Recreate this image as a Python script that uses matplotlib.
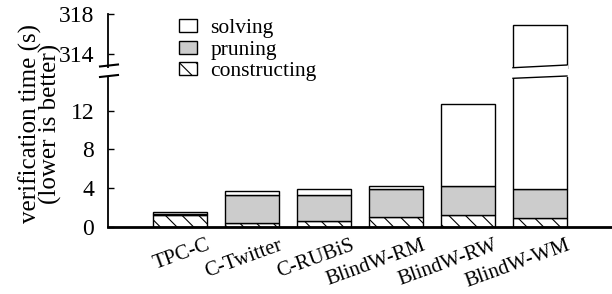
import numpy as np
import matplotlib
matplotlib.use('Agg')
import matplotlib.pyplot as plt
import matplotlib.transforms as mtransforms
from matplotlib.patches import Polygon
from matplotlib.lines import Line2D

plt.rcParams['font.family'] = 'Liberation Serif'
plt.rcParams['font.size'] = 15
plt.rcParams['hatch.linewidth'] = 0.8

benchmarks = ['TPC-C', 'C-Twitter', 'C-RUBiS', 'BlindW-RM', 'BlindW-RW', 'BlindW-WM']
constructing = [1.24, 0.42, 0.62, 0.97, 1.18, 0.87]
pruning = [0.08, 2.83, 2.63, 2.90, 3.03, 3.00]
solving = [0.20, 0.41, 0.68, 0.34, 8.45, 313.0]
lower_ticks = [0, 4, 8, 12]
upper_ticks = [314, 318]

x = np.arange(len(benchmarks))
w = 0.75
c = np.array(constructing)
p = np.array(pruning)
s = np.array(solving)

fig = plt.figure(figsize=(6.12, 2.94), dpi=100)
ax = fig.add_axes([0.1765, 0.2289, 0.8235, 0.509])
axu = fig.add_axes([0.1765, 0.767, 0.8235, 0.1854])

for a in (ax, axu):
    a.bar(x, c, w, color='white', edgecolor='black', hatch='\\\\', linewidth=1, label='constructing')
    a.bar(x, p, w, bottom=c, color='#cccccc', edgecolor='black', linewidth=1, label='pruning')
    a.bar(x, s, w, bottom=c + p, color='white', edgecolor='black', linewidth=1, label='solving')
    a.set_xlim(-1, 6)
    a.spines['top'].set_visible(False)
    a.spines['right'].set_visible(False)
    a.tick_params(axis='y', direction='in', length=4, width=1, pad=10, labelsize=17)

ax.set_ylim(0, 15.48)
axu.set_ylim(312.6, 318)
ax.set_yticks(lower_ticks)
axu.set_yticks(upper_ticks)
ax.spines['bottom'].set_linewidth(2)
ax.spines['left'].set_linewidth(1.3)
axu.spines['left'].set_linewidth(1.3)
axu.spines['bottom'].set_visible(False)
axu.set_xticks([])
ax.set_xticks(x)
ax.set_xticklabels(benchmarks, rotation=20, ha='right', va='top', rotation_mode='anchor')
ax.tick_params(axis='x', length=0, pad=0, labelsize=15)
shift = mtransforms.ScaledTranslation(26 / 100, -9 / 100, fig.dpi_scale_trans)
for lab in ax.get_xticklabels():
    lab.set_transform(lab.get_transform() + shift)

fig.text(0.066, 0.58, 'verification time (s)\n(lower is better)', rotation=90, fontsize=18,
         ha='center', va='center', multialignment='center', linespacing=0.8)

# break marks on the y axis and the tall bar (figure pixel coords)
W, H = fig.get_size_inches() * fig.dpi
def px(xp, yp):
    return (xp / W, 1 - yp / H)

sx = 108
fig.add_artist(Line2D([px(sx - 8, 0)[0], px(sx + 10, 0)[0]], [px(0, 66.5)[1], px(0, 64.5)[1]],
                      color='black', lw=1.5))
fig.add_artist(Line2D([px(sx - 8, 0)[0], px(sx + 10, 0)[0]], [px(0, 77)[1], px(0, 75)[1]],
                      color='black', lw=1.5))
fig.add_artist(Polygon([px(sx - 2, 67.5), px(sx + 2, 67.5), px(sx + 2, 75.5), px(sx - 2, 75.5)],
                       closed=True, facecolor='white', edgecolor='none', transform=fig.transFigure))

big = int(np.argmax(s))
xl_px = ax.transData.transform((x[big] - w / 2, 0))[0]
xr_px = ax.transData.transform((x[big] + w / 2, 0))[0]
gap = Polygon([px(xl_px - 1, 67.7), px(xr_px + 1, 65.0), px(xr_px + 1, 76.0), px(xl_px - 1, 78.3)],
              closed=True, facecolor='white', edgecolor='none', transform=fig.transFigure)
fig.add_artist(gap)
fig.add_artist(Line2D([px(xl_px, 0)[0], px(xr_px, 0)[0]], [px(0, 67.7)[1], px(0, 65.0)[1]],
                      color='black', lw=1))
fig.add_artist(Line2D([px(xl_px, 0)[0], px(xr_px, 0)[0]], [px(0, 78.3)[1], px(0, 76.0)[1]],
                      color='black', lw=1))

h, l = ax.get_legend_handles_labels()
fig.legend(h[::-1], l[::-1], loc='upper left', bbox_to_anchor=px(179, 19), frameon=False,
           fontsize=15.5, handlelength=0.85, handleheight=0.55, handletextpad=0.6, labelspacing=0.12,
           borderpad=0, borderaxespad=0)

fig.savefig('out.png', dpi=100)
